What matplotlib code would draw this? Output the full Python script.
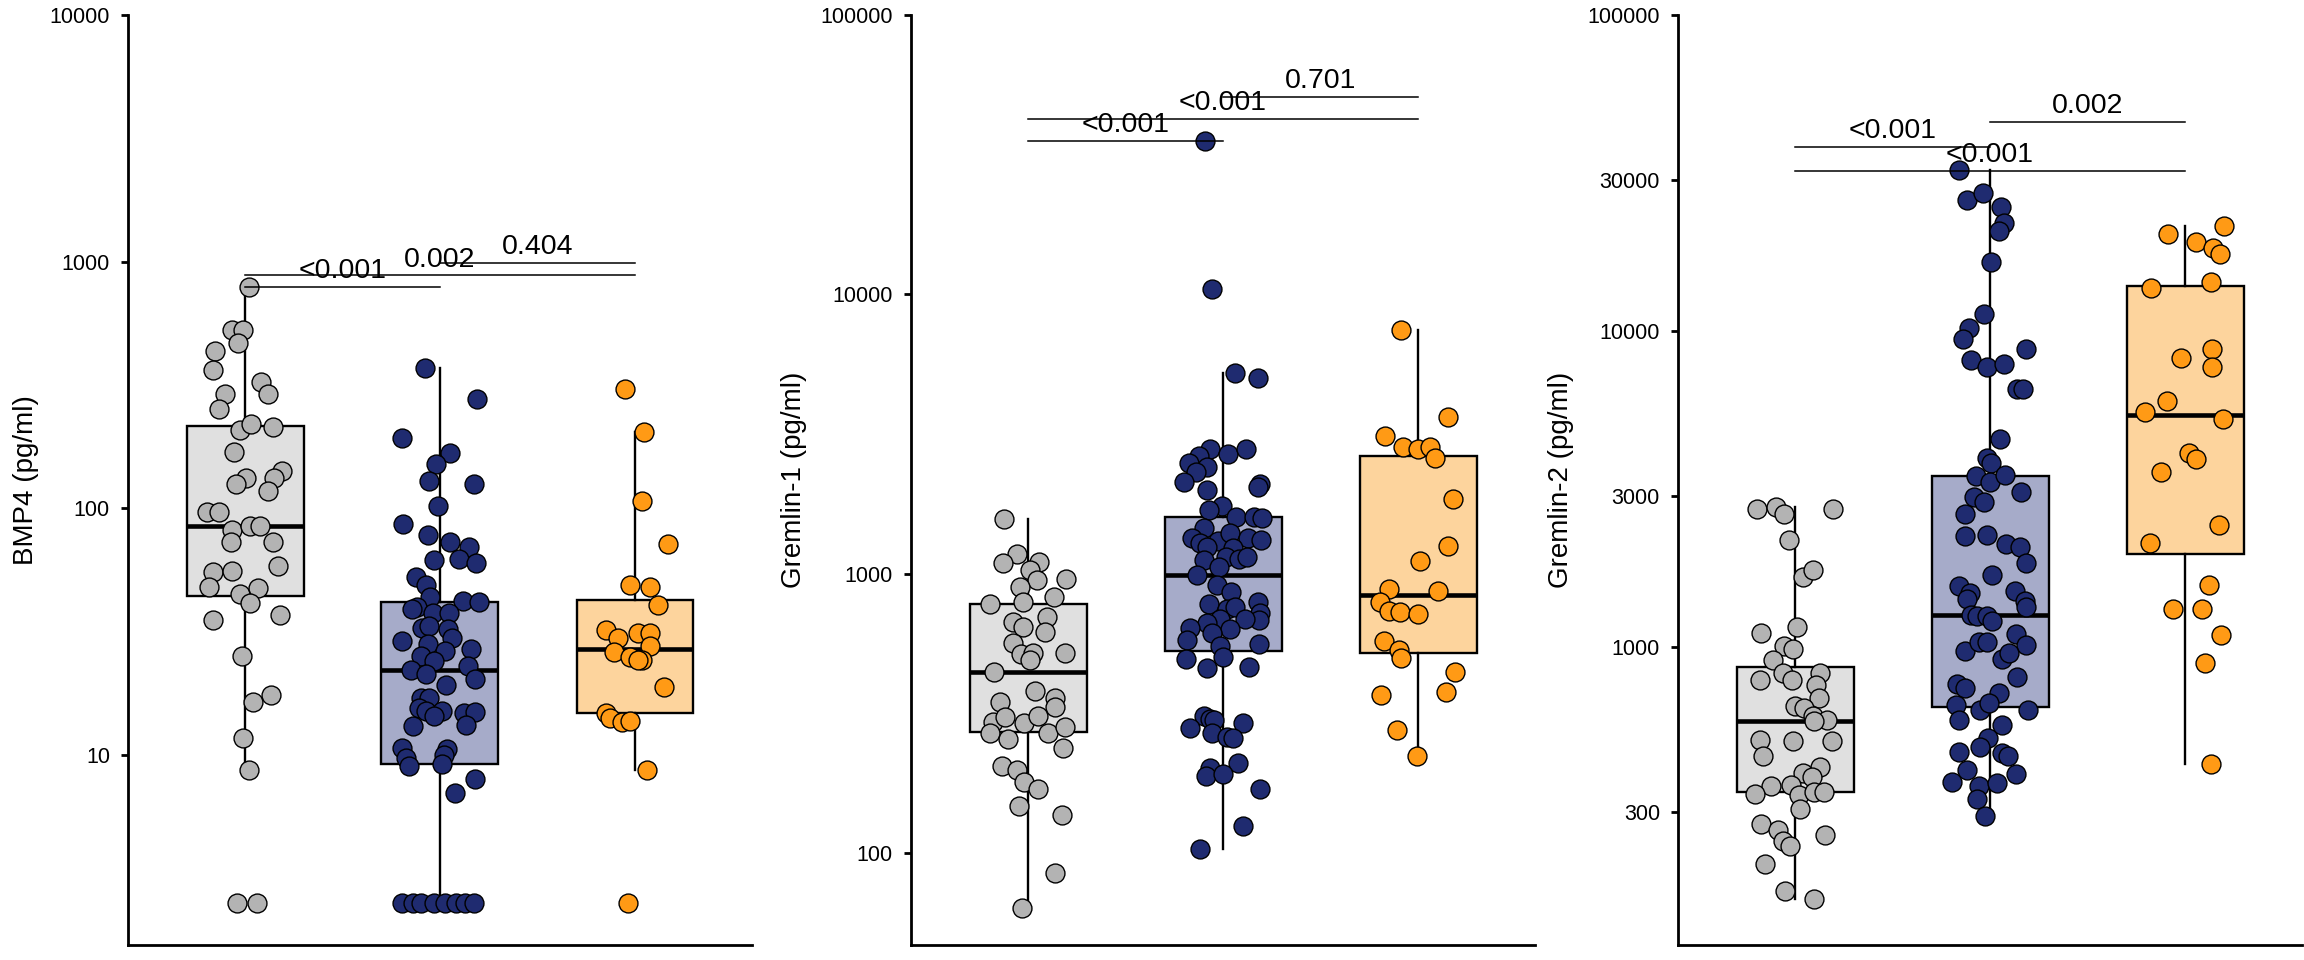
"""Three log-scale box + jitter panels: BMP4, Gremlin-1, Gremlin-2 by group,
with pairwise p-value brackets on top."""
import numpy as np
import matplotlib
matplotlib.use("Agg")
import matplotlib.pyplot as plt
from matplotlib.ticker import FixedLocator, FixedFormatter, NullLocator

plt.rcParams.update({
    "font.family": ["Liberation Sans", "DejaVu Sans"], "font.size": 15,
    "axes.linewidth": 2.0, "axes.edgecolor": "black",
})

C_PT = ["#b3b3b3", "#1f2b70", "#ff9a15"]      # point fills
C_BOX = ["#e0e0e0", "#a6abc9", "#fdd49d"]     # box fills

# ---------------------------------------------------------------- BMP4
bmp4_g1 = [789, 527, 527, 469, 432, 362, 325, 289, 291, 252, 208, 219, 214, 169, 132,
           125, 141, 132, 117, 96, 96, 81.7, 84.5, 84.5, 73, 73, 58, 55, 55.6, 48,
           44.8, 47.5, 41.4, 35.2, 37, 25.2, 16.3, 17.5, 11.7, 8.7, 2.5, 2.5]
bmp4_j1 = [0.02, -0.065, -0.011, -0.037, -0.154, -0.162, 0.084, 0.118, -0.103, -0.134,
           -0.028, 0.031, 0.142, -0.054, 0.006, -0.048, 0.19, 0.15, 0.116, -0.196,
           -0.134, -0.065, 0.026, 0.078, -0.074, 0.145, 0.17, -0.162, -0.065, -0.184,
           -0.028, 0.067, 0.028, -0.162, 0.18, -0.014, 0.042, 0.135, -0.011, 0.023,
           -0.04, 0.06]
bmp4_g2 = [371, 277, 192, 168, 151, 129, 125, 102, 86, 78, 73, 69.6, 62, 60, 61.4, 52.6,
           48.8, 43.6, 42, 41.7, 39.7, 38.8, 37.4, 37.6, 32.7, 33.2, 32.2, 29.8, 28.9, 28,
           26.3, 26.7, 25.1, 23.9, 22.8, 22.1, 21.3, 20.2, 19.2, 17.0, 17.0, 15.5, 15.0,
           15.0, 14.8, 14.9, 14.3, 13.2, 13.1, 10.6, 10.5, 10.0, 9.7, 9.0, 9.2, 8.0, 7.0,
           2.5, 2.5, 2.5, 2.5, 2.5, 2.5, 2.5, 2.5]
bmp4_j2 = [-0.078, 0.19, -0.197, 0.05, -0.018, -0.057, 0.175, -0.009, -0.19, -0.064,
           0.05, 0.148, 0.097, 0.187, -0.031, -0.125, -0.074, -0.052, 0.117, 0.199,
           -0.117, -0.146, -0.035, 0.045, -0.091, -0.057, 0.04, 0.063, -0.197, -0.061,
           0.025, 0.161, -0.096, -0.032, 0.144, -0.151, -0.074, 0.182, 0.032, -0.095,
           -0.057, -0.109, -0.074, 0.008, 0.123, 0.179, -0.031, 0.135, -0.137, -0.197,
           0.037, 0.02, -0.173, -0.16, 0.011, 0.179, 0.075,
           -0.196, -0.138, -0.095, -0.03, 0.025, 0.08, 0.126, 0.176]
bmp4_g3 = [305, 204, 107, 71.8, 48.7, 47.9, 40.3, 32, 29.7, 31, 31, 27.6, 26, 25, 24.3,
           24.3, 18.8, 14.8, 14.1, 13.6, 13.7, 8.7, 2.5]
bmp4_j3 = [-0.05, 0.047, 0.035, 0.167, -0.026, 0.076, 0.12, -0.151, -0.088, 0.013, 0.075,
           0.075, -0.106, -0.025, 0.038, 0.013, 0.151, -0.151, -0.126, -0.068, -0.025,
           0.063, -0.038]
# box stats: q1, median, q3, whisker low, whisker high
bmp4_q1 = [44, 9.2, 14.7]
bmp4_med = [84.5, 22.1, 26.8]
bmp4_q3 = [215, 41.7, 42.3]
bmp4_lo = [8.7, 2.5, 8.7]
bmp4_hi = [789, 371, 204]
bmp4_sig_y = [789, 879, 986]
bmp4_sig_p = ["<0.001", "0.002", "0.404"]

# ---------------------------------------------------------------- Gremlin-1
grem1_g1 = [1566, 1173, 1089, 1096, 1026, 949, 955, 899, 823, 779, 794, 701, 673, 646,
            620, 563, 516, 518, 521, 491, 446, 380, 358, 348, 332, 295, 307, 293, 309,
            268, 256, 268, 283, 237, 205, 198, 179, 169, 147, 137, 84.5, 63.3]
grem1_j1 = [-0.122, -0.058, -0.126, 0.056, 0.009, 0.044, 0.197, -0.04, 0.131, -0.197,
            -0.026, 0.096, -0.075, -0.026, 0.087, -0.079, -0.035, 0.026, 0.188, 0.009,
            -0.175, 0.035, 0.14, -0.143, 0.136, -0.178, -0.119, -0.021, 0.052, -0.195,
            -0.101, 0.1, 0.188, 0.178, -0.131, -0.058, -0.021, 0.052, -0.044, 0.175,
            0.136, -0.031]
grem1_g2 = [35530, 10465, 5212, 5010,
            2788, 2640, 2676, 2788, 2486, 2417, 2320, 2136, 2096, 2050, 1994, 1748, 1691,
            1601, 1592, 1579, 1454, 1346, 1292, 1313, 1395, 1339, 1320, 1250, 1233, 1120,
            1144, 1126, 1144, 1060, 989, 911, 862, 777, 747, 762, 794, 721, 683, 687, 687,
            664, 632, 637, 611, 579, 551, 560, 502, 494, 461, 462, 309, 301, 298, 279, 291,
            268, 259, 257, 201, 189, 210, 192, 169,
            125, 103]
grem1_j2 = [-0.093, -0.055, 0.063, 0.181,
            -0.069, -0.121, 0.027, 0.117, -0.175, -0.083, -0.136, -0.2, 0.19, 0.177,
            -0.083, -0.004, -0.074, 0.065, 0.161, 0.199, -0.095, -0.16, -0.117, -0.025,
            0.036, 0.126, 0.196, -0.08, 0.053, -0.1, 0.013, 0.083, 0.123, -0.022, -0.131,
            -0.03, 0.039, -0.074, 0.022, 0.06, 0.178, 0.19, 0.187, 0.112, -0.013, -0.08,
            0.036, -0.17, -0.057, -0.186, -0.013, 0.183, 0.001, -0.19, -0.083, 0.135,
            -0.1, -0.065, -0.044, -0.17, 0.105, -0.057, 0.019, 0.053, -0.065, -0.086,
            0.077, 0.001, 0.19,
            0.1, -0.118]
grem1_g3 = [7422, 3625, 3114, 2843, 2802, 2843, 2597, 1843, 1255, 1112, 881, 868, 793,
            735, 727, 716, 574, 532, 498, 444, 368, 377, 276, 222]
grem1_j3 = [-0.088, 0.156, -0.171, -0.075, 0.0, 0.063, 0.088, 0.181, 0.156, 0.008,
            -0.151, 0.1, -0.196, -0.151, -0.093, 0.0, -0.176, -0.1, -0.088, 0.188,
            -0.188, 0.143, -0.106, -0.005]
grem1_q1 = [272, 530, 519]
grem1_med = [446, 989, 838]
grem1_q3 = [779, 1590, 2636]
grem1_lo = [63.3, 103, 222]
grem1_hi = [1566, 5212, 7422]
grem1_sig_y = [35520, 42390, 50830]
grem1_sig_p = ["<0.001", "<0.001", "0.701"]

# ---------------------------------------------------------------- Gremlin-2
grem2_g1 = [2740, 2767, 2635, 2740, 2186, 1661, 1757, 1154, 1107, 1005, 988, 907, 827,
            788, 788, 827, 760, 690, 649, 641, 603, 589, 582, 509, 505, 505, 451, 416,
            399, 389, 362, 365, 343, 341, 347, 347, 308, 275, 264, 243, 234, 255, 205,
            169, 159]
grem2_j1 = [-0.195, -0.098, -0.054, 0.195, -0.033, 0.042, 0.091, 0.011, -0.174, -0.054,
            -0.011, -0.112, -0.063, -0.177, -0.014, 0.13, 0.109, 0.121, 0.0, 0.044,
            0.091, 0.165, 0.095, -0.177, -0.011, 0.191, -0.165, 0.13, 0.042, 0.086,
            -0.125, -0.019, -0.204, 0.021, 0.095, 0.151, 0.028, -0.172, -0.089, -0.063,
            -0.025, 0.156, -0.154, -0.051, 0.095]
grem2_g2 = [32240, 25940, 27340, 24600, 22000, 20680, 16530, 11310, 10210, 9447, 8799,
            8087, 7673, 7842, 6547, 6547, 4551, 3958, 3813, 3474, 3336, 3495, 3087, 2992,
            2873, 2626, 2248, 2262, 2113, 2074, 1849, 1684, 1558, 1487, 1419, 1501, 1398,
            1342, 1261, 1253, 1253, 1208, 972, 1040, 1034, 1100, 1015, 913, 954, 804, 762,
            739, 716, 653, 633, 667, 633, 586, 568, 517, 481, 464, 461, 452, 407, 395,
            373, 364, 371, 330, 291]
grem2_j2 = [-0.161, -0.117, -0.034, 0.056, 0.07, 0.047, 0.003, -0.031, -0.109, -0.139,
            0.187, -0.097, -0.017, 0.073, 0.14, 0.17, 0.052, -0.017, 0.004, -0.074, 0.0,
            0.077, 0.161, -0.083, -0.031, -0.126, -0.126, -0.013, 0.083, 0.152, 0.183,
            0.009, -0.161, -0.103, -0.117, 0.13, 0.182, 0.187, -0.1, -0.066, -0.013,
            0.01, -0.13, -0.057, -0.013, 0.135, 0.187, 0.06, 0.097, 0.14, -0.17, -0.126,
            0.047, -0.174, -0.052, -0.004, 0.195, -0.161, 0.06, -0.01, -0.049, -0.157,
            0.064, 0.09, -0.118, 0.134, -0.197, -0.057, 0.038, -0.066, -0.027]
grem2_g3 = [21450, 20240, 19100, 18350, 17550, 14290, 13670, 8785, 8216, 7688, 6013,
            5549, 5259, 4115, 3936, 3583, 2441, 2126, 1576, 1319, 1319, 1094, 890, 426]
grem2_j3 = [0.2, -0.085, 0.056, 0.146, 0.179, 0.133, -0.174, 0.141, -0.021, 0.141,
            -0.09, -0.205, 0.197, 0.018, 0.056, -0.123, 0.172, -0.179, 0.121, -0.059,
            0.085, 0.185, 0.103, 0.133]
grem2_q1 = [347, 646, 1970]
grem2_med = [582, 1262, 5427]
grem2_q3 = [862, 3474, 13850]
grem2_lo = [159, 291, 426]
grem2_hi = [2767, 32240, 21450]
grem2_sig_y = [38310, 32050, 45810]
grem2_sig_p = ["<0.001", "<0.001", "0.002"]

SIG_PAIRS = [(1, 2), (1, 3), (2, 3)]


def panel(ax, groups, jitters, q1, med, q3, lo, hi, sig_y, sig_p,
          ylabel, ylim, yticks, label_x):
    stats = [dict(q1=a, med=m, q3=b, whislo=l, whishi=h, fliers=[])
             for a, m, b, l, h in zip(q1, med, q3, lo, hi)]
    bp = ax.bxp(stats, positions=[1, 2, 3], widths=0.6, patch_artist=True,
                showcaps=False, showfliers=False,
                boxprops=dict(linewidth=1.7, edgecolor="black"),
                whiskerprops=dict(linewidth=1.7, color="black"),
                medianprops=dict(linewidth=3.3, color="black", solid_capstyle="butt"))
    for box, fc in zip(bp["boxes"], C_BOX):
        box.set_facecolor(fc)
    for i, (vals, jit) in enumerate(zip(groups, jitters)):
        x = i + 1 + np.asarray(jit)
        ax.scatter(x, vals, s=185, color=C_PT[i], edgecolors="black",
                   linewidths=1.0, zorder=3)
    for (a, b), y, p in zip(SIG_PAIRS, sig_y, sig_p):
        ax.plot([a, b], [y, y], color="black", lw=1.1, zorder=4)
        ax.annotate(p, xy=((a + b) / 2, y), xytext=(0, 6.3), textcoords="offset points",
                    ha="center", va="baseline", fontsize=20.5, zorder=5)
    ax.set_yscale("log")
    ax.set_ylim(*ylim)
    ax.set_xlim(0.4, 3.6)
    ax.yaxis.set_major_locator(FixedLocator(yticks))
    ax.yaxis.set_major_formatter(FixedFormatter([str(t) for t in yticks]))
    ax.yaxis.set_minor_locator(NullLocator())
    ax.set_xticks([])
    ax.tick_params(axis="y", length=5, width=2.0, pad=8, labelsize=15.5)
    for s in ("top", "right"):
        ax.spines[s].set_visible(False)
    ax.set_ylabel(ylabel, fontsize=20)
    ax.yaxis.label.set_va("center")
    ax.yaxis.set_label_coords(label_x, 0.5)


fig = plt.figure(figsize=(23.04, 9.6), dpi=100)
H0, H = 15 / 960, 930 / 960
W = 624 / 2304
ax1 = fig.add_axes([128 / 2304, H0, W, H])
ax2 = fig.add_axes([911 / 2304, H0, W, H])
ax3 = fig.add_axes([1678 / 2304, H0, W, H])

panel(ax1, [bmp4_g1, bmp4_g2, bmp4_g3], [bmp4_j1, bmp4_j2, bmp4_j3],
      bmp4_q1, bmp4_med, bmp4_q3, bmp4_lo, bmp4_hi, bmp4_sig_y, bmp4_sig_p,
      "BMP4 (pg/ml)", (1.69, 10000), [10, 100, 1000, 10000], -0.163)
panel(ax2, [grem1_g1, grem1_g2, grem1_g3], [grem1_j1, grem1_j2, grem1_j3],
      grem1_q1, grem1_med, grem1_q3, grem1_lo, grem1_hi, grem1_sig_y, grem1_sig_p,
      "Gremlin-1 (pg/ml)", (46.8, 100000), [100, 1000, 10000, 100000], -0.188)
panel(ax3, [grem2_g1, grem2_g2, grem2_g3], [grem2_j1, grem2_j2, grem2_j3],
      grem2_q1, grem2_med, grem2_q3, grem2_lo, grem2_hi, grem2_sig_y, grem2_sig_p,
      "Gremlin-2 (pg/ml)", (114, 100000), [300, 1000, 3000, 10000, 30000, 100000], -0.187)

fig.savefig("out.png", dpi=100)
